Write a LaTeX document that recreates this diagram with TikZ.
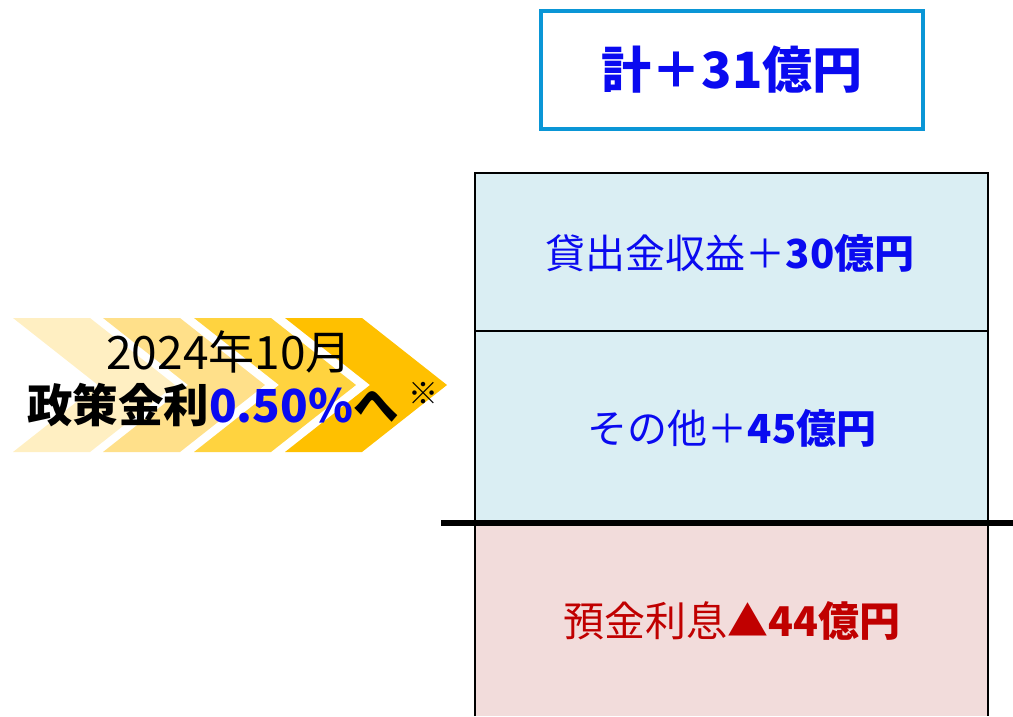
\documentclass[tikz,border=0pt]{standalone}
\usepackage{fontspec}
\setmainfont{Noto Sans CJK JP}
\newfontfamily\jp{Noto Sans CJK JP}
\definecolor{tblue}{HTML}{0A0AF0}
\definecolor{tred}{HTML}{C00000}
\definecolor{frameblue}{HTML}{0A96D6}
\definecolor{boxblue}{HTML}{DAEEF3}
\definecolor{boxred}{HTML}{F2DCDB}
\definecolor{chevA}{HTML}{FFEFC2}
\definecolor{chevB}{HTML}{FFE08A}
\definecolor{chevC}{HTML}{FFD33F}
\definecolor{chevD}{HTML}{FFC000}
\begin{document}
\begin{tikzpicture}[x=1pt,y=-1pt,
  txt/.style={inner sep=0pt,font=\jp},
  barbox/.style={draw=black,line width=1.5pt,inner sep=0pt}]
\useasboundingbox (0,0) rectangle (1013,716);
% chevrons
\foreach \L/\c in {13/chevA,103/chevB,194/chevC,285/chevD}{
  \fill[\c] (\L,318) -- ++(77,0) -- ++(85,67) -- ++(-85,67) -- ++(-77,0) -- ++(85,-67) -- cycle;
}
\node[txt,font=\jp\fontsize{46}{46}\selectfont] (date) at (229,352) {2024年10月};
\node[txt,font=\jp\fontsize{45.5}{45.5}\selectfont,anchor=west] (rate) at (27,405)
  {\bfseries 政策金利\textcolor{tblue}{0.50\%}へ};
\node[txt,font=\jp\fontsize{30}{30}\selectfont] (note) at (423,393) {※};
% top box
\node[draw=frameblue,line width=4pt,minimum width=382pt,minimum height=118pt,inner sep=0pt,
  font=\jp\bfseries\fontsize{50}{50}\selectfont,text=tblue] (total) at (732,70) {計＋31億円};
% bars
\node[barbox,fill=boxblue,minimum width=513pt,minimum height=158pt] (loanbox) at (731.5,252) {};
\node[barbox,fill=boxblue,minimum width=513pt,minimum height=192pt] (otherbox) at (731.5,427) {};
\fill[boxred] (475,523) rectangle (988,716);
\draw[line width=1.5pt] (475,716) -- (475,523) (988,523) -- (988,716);
\node[txt,text=tblue,font=\jp\fontsize{40}{40}\selectfont] (loan) at (730,253) {貸出金収益＋{\bfseries 30億円}};
\node[txt,text=tblue,font=\jp\fontsize{40}{40}\selectfont] (other) at (732,428) {その他＋{\bfseries 45億円}};
\node[txt,text=tred,font=\jp\fontsize{41}{41}\selectfont] (deposit) at (732,621) {預金利息▲{\bfseries 44億円}};
\coordinate (zl) at (441,523);
\coordinate (zr) at (1013,523);
\draw[line width=5.5pt] (zl) -- (zr);
\end{tikzpicture}
\end{document}
